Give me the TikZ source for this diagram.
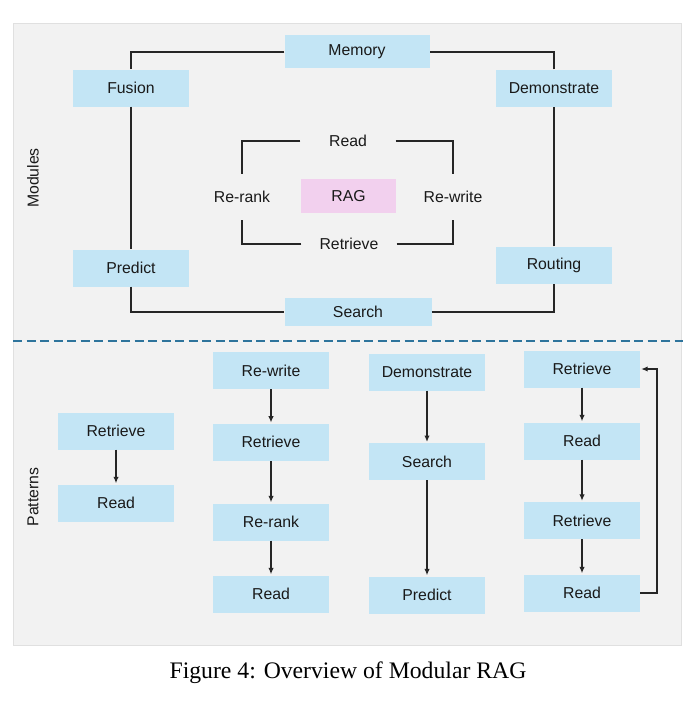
\documentclass[tikz,border=0pt]{standalone}
\usepackage{fontspec}
\setmainfont{Liberation Serif}
\setsansfont{Liberation Sans}
\usetikzlibrary{positioning, arrows.meta}
\definecolor{boxblue}{RGB}{195,229,245}
\definecolor{ragpink}{RGB}{242,208,238}
\definecolor{panelgray}{RGB}{242,242,242}
\definecolor{dashblue}{RGB}{46,116,156}
\definecolor{linegray}{RGB}{38,38,38}
\tikzset{
  module/.style={fill=boxblue, minimum width=116pt, minimum height=37pt, inner sep=0pt,
    text=black!90, font=\sffamily\fontsize{15.8}{18}\selectfont},
  widemod/.style={module, minimum width=145pt, minimum height=33pt},
  ringtext/.style={minimum width=95pt, minimum height=46pt, inner sep=0pt,
    text=black!90, font=\sffamily\fontsize{15.8}{18}\selectfont},
  frame/.style={draw=linegray, line width=1.7pt},
  flow/.style={frame, line width=1.5pt, -{Latex[length=6.5pt,width=5.5pt]}, shorten >=1pt},
}
\begin{document}
\begin{tikzpicture}[x=1pt,y=-1pt]
\useasboundingbox (0,0) rectangle (696,701);
% panels
\draw[fill=panelgray, draw=black!12] (13,23) rectangle (681,645);
\draw[dashblue, line width=2pt, dash pattern=on 9pt off 4.5pt] (13,341) -- (683,341);
\node[rotate=90, ringtext, minimum width=0pt, minimum height=0pt] (modtxt) at (33,178) {Modules};
\node[rotate=90, ringtext, minimum width=0pt, minimum height=0pt] (pattxt) at (33,497) {Patterns};
% modules ring
\node[widemod] (mem) at (357,52) {Memory};
\node[module] (fus) at (131,88) {Fusion};
\node[module] (demo) at (554,88) {Demonstrate};
\node[module] (pred) at (131,268) {Predict};
\node[module] (rout) at (554,265) {Routing};
\node[widemod, minimum width=147pt, minimum height=28pt] (srch) at (358,312) {Search};
\draw[frame] (mem.west) -| (fus.north);
\draw[frame] (fus.south) -- (pred.north);
\draw[frame] (pred.south) |- (srch.west);
\draw[frame] (srch.east) -| (rout.south);
\draw[frame] (rout.north) -- (demo.south);
\draw[frame] (demo.north) |- (mem.east);
% inner loop round RAG
\node[ringtext, fill=ragpink, minimum height=34pt] (rag) at (348.5,196) {RAG};
\node[ringtext] (read) at (348,141) {Read};
\node[ringtext] (rerank) at (242,197) {Re-rank};
\node[ringtext] (rewrite) at (453,197) {Re-write};
\node[ringtext] (retr) at (349,244) {Retrieve};
\draw[frame] (read.west) -| (rerank.north);
\draw[frame] (read.east) -| (rewrite.north);
\draw[frame] (retr.west) -| (rerank.south);
\draw[frame] (retr.east) -| (rewrite.south);
% patterns
\node[module] (pa1) at (116,431) {Retrieve};
\node[module] (pa2) at (116,503) {Read};
\draw[flow] (pa1) -- (pa2);
\node[module] (pb1) at (271,370.7) {Re-write};
\node[module] (pb2) at (271,442.3) {Retrieve};
\node[module] (pb3) at (271,522) {Re-rank};
\node[module] (pb4) at (271,594) {Read};
\draw[flow] (pb1) -- (pb2);
\draw[flow] (pb2) -- (pb3);
\draw[flow] (pb3) -- (pb4);
\node[module] (pc1) at (427,372) {Demonstrate};
\node[module] (pc2) at (427,461.7) {Search};
\node[module] (pc3) at (427,595) {Predict};
\draw[flow] (pc1) -- (pc2);
\draw[flow] (pc2) -- (pc3);
\node[module] (pd1) at (582,369) {Retrieve};
\node[module] (pd2) at (582,441) {Read};
\node[module] (pd3) at (582,520.5) {Retrieve};
\node[module] (pd4) at (582,593) {Read};
\draw[flow] (pd1) -- (pd2);
\draw[flow] (pd2) -- (pd3);
\draw[flow] (pd3) -- (pd4);
\coordinate (loopback) at (657,593);
\draw[flow] (pd4.east) -- (loopback) |- (pd1.east);
% caption
\node[font=\fontsize{23.7}{28}\selectfont] (cap) at (348,673) {Figure 4: Overview of Modular RAG};
\end{tikzpicture}
\end{document}
